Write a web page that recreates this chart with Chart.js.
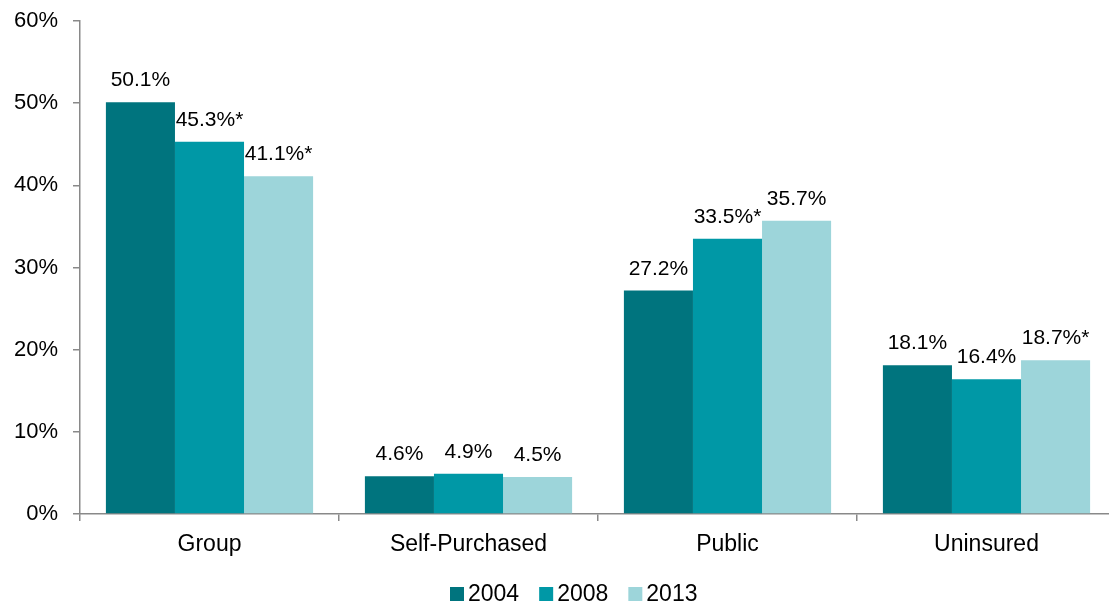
<!DOCTYPE html>
<html>
<head>
<meta charset="utf-8">
<script src="https://cdn.jsdelivr.net/npm/chart.js@4/dist/chart.umd.min.js"></script>
<style>
  html, body { margin: 0; padding: 0; background: #fff; overflow: hidden; }
  #wrap { width: 1120px; height: 605px; overflow: hidden; }
</style>
</head>
<body>
<div id="wrap"><canvas id="c" width="1120" height="605"></canvas></div>
<script>
const categories = ['Group', 'Self-Purchased', 'Public', 'Uninsured'];
const years = ['2004', '2008', '2013'];
const values2004 = [50.1, 4.6, 27.2, 18.1];
const values2008 = [45.3, 4.9, 33.5, 16.4];
const values2013 = [41.1, 4.5, 35.7, 18.7];
const star2004 = [false, false, false, false];
const star2008 = [true, false, true, false];
const star2013 = [true, false, false, true];
const yTicks = [0, 10, 20, 30, 40, 50, 60];

const colors = ['#00747E', '#0098A6', '#9DD5DA'];
const FONT = '"Liberation Sans", Arial, sans-serif';

const seriesValues = [values2004, values2008, values2013];
const seriesStars = [star2004, star2008, star2013];

const datasets = years.map((y, i) => ({
  label: y,
  data: seriesValues[i],
  stars: seriesStars[i],
  backgroundColor: colors[i],
  borderWidth: 0,
  categoryPercentage: 0.8,
  barPercentage: 1.0
}));

const valueLabels = {
  id: 'valueLabels',
  afterDatasetsDraw(chart) {
    const ctx = chart.ctx;
    ctx.save();
    ctx.font = '21px ' + FONT;
    ctx.fillStyle = '#000';
    ctx.textAlign = 'center';
    ctx.textBaseline = 'alphabetic';
    chart.data.datasets.forEach((ds, di) => {
      const meta = chart.getDatasetMeta(di);
      meta.data.forEach((el, i) => {
        const txt = ds.data[i].toFixed(1) + '%' + (ds.stars[i] ? '*' : '');
        ctx.fillText(txt, el.x, el.y - 16);
      });
    });
    ctx.restore();
  }
};

const customLegend = {
  id: 'customLegend',
  afterDraw(chart) {
    const ctx = chart.ctx;
    ctx.save();
    ctx.font = '23px ' + FONT;
    ctx.textBaseline = 'middle';
    ctx.textAlign = 'left';
    const box = 14, gapText = 4, gapItem = 20;
    const items = chart.data.datasets.map(ds => ({ label: ds.label, color: ds.backgroundColor, w: ctx.measureText(ds.label).width }));
    let x = 450;
    const cy = 594;
    items.forEach(it => {
      ctx.fillStyle = it.color;
      ctx.fillRect(x, cy - box / 2, box, box);
      ctx.fillStyle = '#000';
      ctx.fillText(it.label, x + box + gapText, cy + 1);
      x += box + gapText + it.w + gapItem;
    });
    ctx.restore();
  }
};

new Chart(document.getElementById('c'), {
  type: 'bar',
  data: { labels: categories, datasets },
  options: {
    responsive: false,
    animation: false,
    devicePixelRatio: 1,
    layout: { padding: { left: 0, right: 4, top: 21, bottom: 48 } },
    plugins: {
      legend: { display: false },
      tooltip: { enabled: false }
    },
    scales: {
      x: {
        grid: { display: true, drawOnChartArea: false, drawTicks: true, tickLength: 7, color: '#898989', lineWidth: 1.5, offset: true },
        border: { display: true, color: '#898989', width: 1.5 },
        ticks: { color: '#000', font: { family: FONT, size: 23 }, padding: 10 },
        afterFit(scale) { scale.height = 43; scale.paddingLeft = 0; scale.paddingRight = 0; }
      },
      y: {
        min: 0, max: 60,
        afterBuildTicks(scale) { scale.ticks = yTicks.map(v => ({ value: v })); },
        grid: { display: true, drawOnChartArea: false, drawTicks: true, tickLength: 7, color: '#898989', lineWidth: 1.5 },
        border: { display: true, color: '#898989', width: 1.5 },
        ticks: { color: '#000', font: { family: FONT, size: 22 }, padding: 15, callback: v => v + '%' },
        afterFit(scale) { scale.width = 80; scale.paddingTop = 0; scale.paddingBottom = 0; }
      }
    }
  },
  plugins: [valueLabels, customLegend]
});
</script>
</body>
</html>
